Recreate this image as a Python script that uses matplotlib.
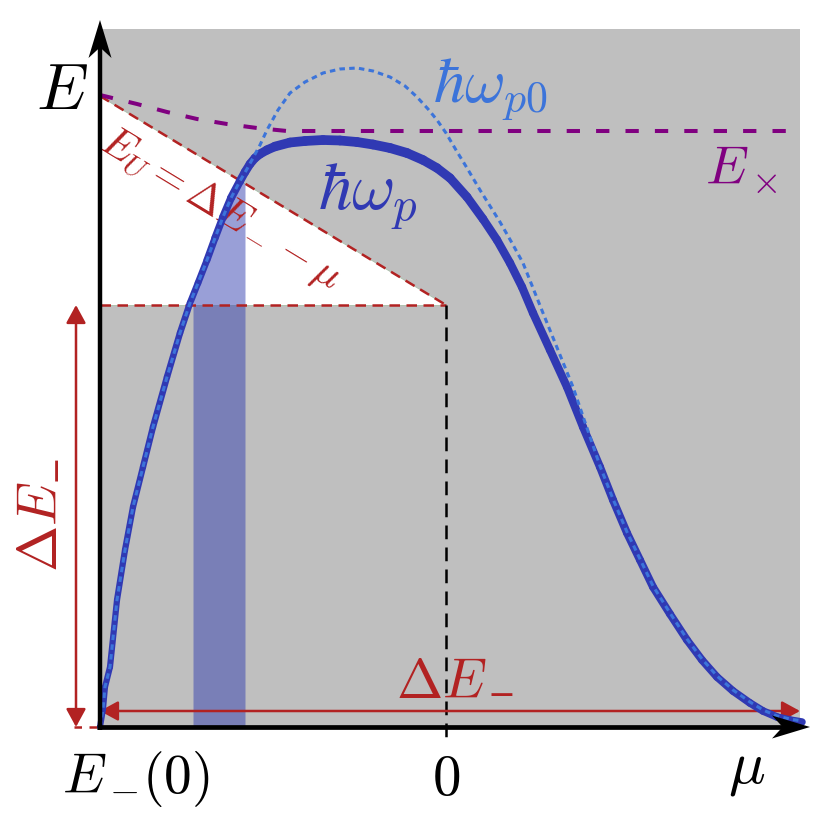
import numpy as np
import matplotlib
matplotlib.use('Agg')
import matplotlib.pyplot as plt
from matplotlib.collections import LineCollection
from matplotlib.patches import Polygon, Rectangle

plt.rcParams['mathtext.fontset'] = 'cm'
plt.rcParams['font.family'] = ['DejaVu Serif']

# ---------------- data (units: 1 = 100 px of the reference) ----------------
# plasmon energy  hbar*omega_p  (thick curve)
mu_p = [0.00, 0.03, 0.05, 0.10, 0.17, 0.25, 0.33, 0.43, 0.53, 0.67, 0.80,
        0.90, 0.98, 1.07, 1.15, 1.23, 1.31, 1.40, 1.45, 1.50, 1.55, 1.60,
        1.67, 1.75, 1.90, 2.05, 2.23, 2.40, 2.57, 2.73, 2.90, 3.07, 3.23,
        3.37, 3.50, 3.67, 3.83, 3.97, 4.10, 4.22, 4.33, 4.50, 4.67, 4.83,
        5.00, 5.13, 5.27, 5.40, 5.53, 5.70, 5.87, 6.02, 6.17, 6.33, 6.50,
        6.63, 6.77, 6.90, 7.02]
E_p = [0.00, 0.18, 0.40, 0.60, 1.27, 1.77, 2.20, 2.60, 3.00, 3.50, 3.94,
       4.24, 4.44, 4.67, 4.89, 5.10, 5.29, 5.46, 5.55, 5.63, 5.69, 5.73,
       5.77, 5.805, 5.845, 5.86, 5.87, 5.865, 5.85, 5.825, 5.79, 5.74, 5.67,
       5.59, 5.49, 5.30, 5.08, 4.87, 4.64, 4.40, 4.14, 3.77, 3.40, 3.00,
       2.60, 2.27, 1.94, 1.67, 1.40, 1.13, 0.87, 0.67, 0.50, 0.36, 0.24,
       0.16, 0.10, 0.07, 0.05]

# bare plasmon energy  hbar*omega_p0  (dotted curve)
mu_p0 = [0.00, 0.03, 0.05, 0.10, 0.17, 0.25, 0.33, 0.43, 0.53, 0.67, 0.80,
         0.90, 0.98, 1.07, 1.15, 1.23, 1.31, 1.40, 1.47, 1.53, 1.60, 1.67,
         1.78, 1.90, 2.05, 2.23, 2.40, 2.57, 2.73, 2.90, 3.05, 3.17, 3.28,
         3.37, 3.46, 3.56, 3.67, 3.80, 4.00, 4.12, 4.23, 4.33, 4.43, 4.58,
         4.73, 4.87, 5.00, 5.13, 5.27, 5.40, 5.53, 5.70, 5.87, 6.02, 6.17,
         6.33, 6.50, 6.63, 6.77, 6.90, 7.02]
E_p0 = [0.00, 0.18, 0.40, 0.60, 1.27, 1.77, 2.20, 2.60, 3.00, 3.50, 3.94,
        4.24, 4.44, 4.67, 4.89, 5.10, 5.29, 5.46, 5.58, 5.69, 5.82, 5.97,
        6.17, 6.34, 6.45, 6.54, 6.58, 6.59, 6.56, 6.50, 6.41, 6.30, 6.18,
        6.07, 5.94, 5.77, 5.59, 5.37, 5.05, 4.84, 4.64, 4.39, 4.14, 3.77,
        3.40, 2.99, 2.61, 2.28, 1.95, 1.68, 1.41, 1.14, 0.88, 0.68, 0.51,
        0.37, 0.25, 0.17, 0.11, 0.08, 0.06]

# exciton energy E_x (purple dashed)
mu_x = [0.00, 0.37, 0.67, 0.97, 1.27, 1.57, 1.87, 7.00]
E_x = [6.32, 6.23, 6.15, 6.08, 6.03, 5.99, 5.96, 5.96]

E_top = 6.31      # E_U at mu = E_-(0)
dE = 4.22         # Delta E_- (vertical)
mu_zero = 3.46    # position of mu = 0
mu_max = 7.00
E_max = 6.98
bar_lo, bar_hi = 0.93, 1.45

# ---------------- colours ----------------
GRAY = '#bfbfbf'
RED = '#b22222'
PURPLE = '#800080'
BLUE = '#3039b3'
LBLUE = '#3c74da'
BAR = (53 / 255, 65 / 255, 177 / 255)

fig = plt.figure(figsize=(8.30, 8.19), dpi=100)
ax = fig.add_axes([0, 0, 1, 1])
ax.set_xlim(-1.0, 7.30)
ax.set_ylim(-0.92, 7.27)
ax.axis('off')

# background regions
ax.add_patch(Rectangle((0, 0), mu_max, E_max, facecolor=GRAY, edgecolor='none', zorder=0))
ax.add_patch(Polygon([(0, E_top), (0, dE), (mu_zero, dE)], closed=True,
                     facecolor='white', edgecolor='#a9bfa9', lw=0.6, zorder=1))


def diag(m):
    return E_top + (dE - E_top) * np.asarray(m) / mu_zero


# shaded bar
xs = np.linspace(bar_lo, bar_hi, 300)
top = np.minimum(np.interp(xs, mu_p, E_p), diag(xs))
ax.fill_between(xs, 0, top, color=BAR, alpha=0.5, lw=0, zorder=2)

# dashed guide lines
ax.plot([0, mu_zero], [E_top, dE], color=RED, lw=1.8, dashes=(4.2, 2.6), zorder=3)
ax.plot([0, mu_zero], [dE, dE], color=RED, lw=1.8, dashes=(4.2, 2.6), zorder=3)
ax.plot([mu_zero, mu_zero], [dE, -0.15], color='black', lw=1.8, dashes=(5.5, 3.3), zorder=3)
ax.plot(mu_x, E_x, color=PURPLE, lw=2.9, dashes=(3.3, 4.0), zorder=3)

# red arrows
ax.annotate('', xy=(-0.24, dE), xytext=(-0.24, 0.0),
            arrowprops=dict(arrowstyle='<|-|>,head_length=0.55,head_width=0.3',
                            color=RED, lw=1.8, shrinkA=0, shrinkB=0,
                            mutation_scale=20), zorder=3)
ax.plot([-0.26, 0], [0, 0], color=RED, lw=1.8, dashes=(3, 3), zorder=3)
ax.annotate('', xy=(mu_max, 0.16), xytext=(0.0, 0.16),
            arrowprops=dict(arrowstyle='<|-|>,head_length=0.55,head_width=0.3',
                            color=RED, lw=1.8, shrinkA=0, shrinkB=0,
                            mutation_scale=20), zorder=3)

# texts
ax.text(1.21, 5.18, r'$E_U=\Delta E_- - \mu$', color=RED, fontsize=30,
        rotation=-31.26, rotation_mode='anchor', ha='center', va='center', zorder=3)
t_left = ax.text(-0.43, 1.55, r'$\Delta E$', color=RED, fontsize=40, rotation=90,
                 rotation_mode='anchor', ha='left', va='baseline', zorder=3)
t_bot = ax.text(2.96, 0.29, r'$\Delta E$', color=RED, fontsize=40,
                ha='left', va='baseline', zorder=3)
ax.text(-0.64, 6.18, r'$E$', color='black', fontsize=47, ha='left', va='baseline')
ax.text(3.33, 6.25, r'$\hbar\omega_{p0}$', color=LBLUE, fontsize=45, ha='left', va='baseline', zorder=3)
ax.text(2.18, 5.17, r'$\hbar\omega_p$', color=BLUE, fontsize=48, ha='left', va='baseline', zorder=3)
ax.text(6.05, 5.42, r'$E_\times$', color=PURPLE, fontsize=39, ha='left', va='baseline', zorder=3)
ax.text(0.36, -0.66, r'$E_-\!(0)$', color='black', fontsize=40, ha='center', va='baseline')
ax.text(mu_zero, -0.68, r'$0$', color='black', fontsize=41, ha='center', va='baseline')
ax.text(6.47, -0.55, r'$\mu$', color='black', fontsize=44, ha='center', va='baseline')

# subscript minus signs of the Delta E_- labels (placed after the measured "Delta E")
fig.canvas.draw()
rend = fig.canvas.get_renderer()
inv = ax.transData.inverted()
bb = t_bot.get_window_extent(rend)
(bx0, by0), (bx1, by1) = inv.transform([[bb.x0, bb.y0], [bb.x1, bb.y1]])
ax.text(bx1 + 0.005, 0.29 - 0.075, '\u2212', family='DejaVu Sans', fontsize=24,
        color=RED, ha='left', va='baseline', zorder=3)
bb = t_left.get_window_extent(rend)
(lx0, ly0), (lx1, ly1) = inv.transform([[bb.x0, bb.y0], [bb.x1, bb.y1]])
ax.text(-0.43 + 0.075, ly1 + 0.005, '\u2212', family='DejaVu Sans', fontsize=24,
        color=RED, rotation=90, rotation_mode='anchor', ha='left', va='baseline', zorder=3)

# thick curve with variable width
pts = np.column_stack([mu_p, E_p])
segs = np.stack([pts[:-1], pts[1:]], axis=1)
mid = 0.5 * (pts[:-1, 0] + pts[1:, 0])
lw = np.interp(mid, [0, 1.0, 1.5, 1.9, 3.0, 4.0, 7.0], [4.4, 4.8, 6.2, 7.0, 7.0, 6.0, 5.4])
lc = LineCollection(segs, colors=BLUE, linewidths=lw, capstyle='round', joinstyle='round', zorder=4)
ax.add_collection(lc)

# dotted bare curve
ax.plot(mu_p0, E_p0, color=LBLUE, lw=2.2, dashes=(1.8, 1.4), zorder=5)


# axes arrows
def head(tip, d, L, W, color='black', z=6, notch=0.28):
    tip = np.asarray(tip, float)
    d = np.asarray(d, float)
    d = d / np.linalg.norm(d)
    n = np.array([-d[1], d[0]])
    back = tip - d * L
    nb = tip - d * L * (1 - notch)
    ax.add_patch(Polygon([tip, back + n * W / 2, nb, back - n * W / 2], closed=True,
                         facecolor=color, edgecolor='none', zorder=z))


ax.plot([0, 0], [-0.03, 6.8], color='black', lw=3.2, solid_capstyle='butt', zorder=6)
ax.plot([-0.03, 6.85], [0, 0], color='black', lw=3.4, solid_capstyle='butt', zorder=6)
head((0, 7.07), (0, 1), 0.38, 0.23)
head((7.10, 0), (1, 0), 0.38, 0.23)

fig.savefig('out.png', dpi=100)
